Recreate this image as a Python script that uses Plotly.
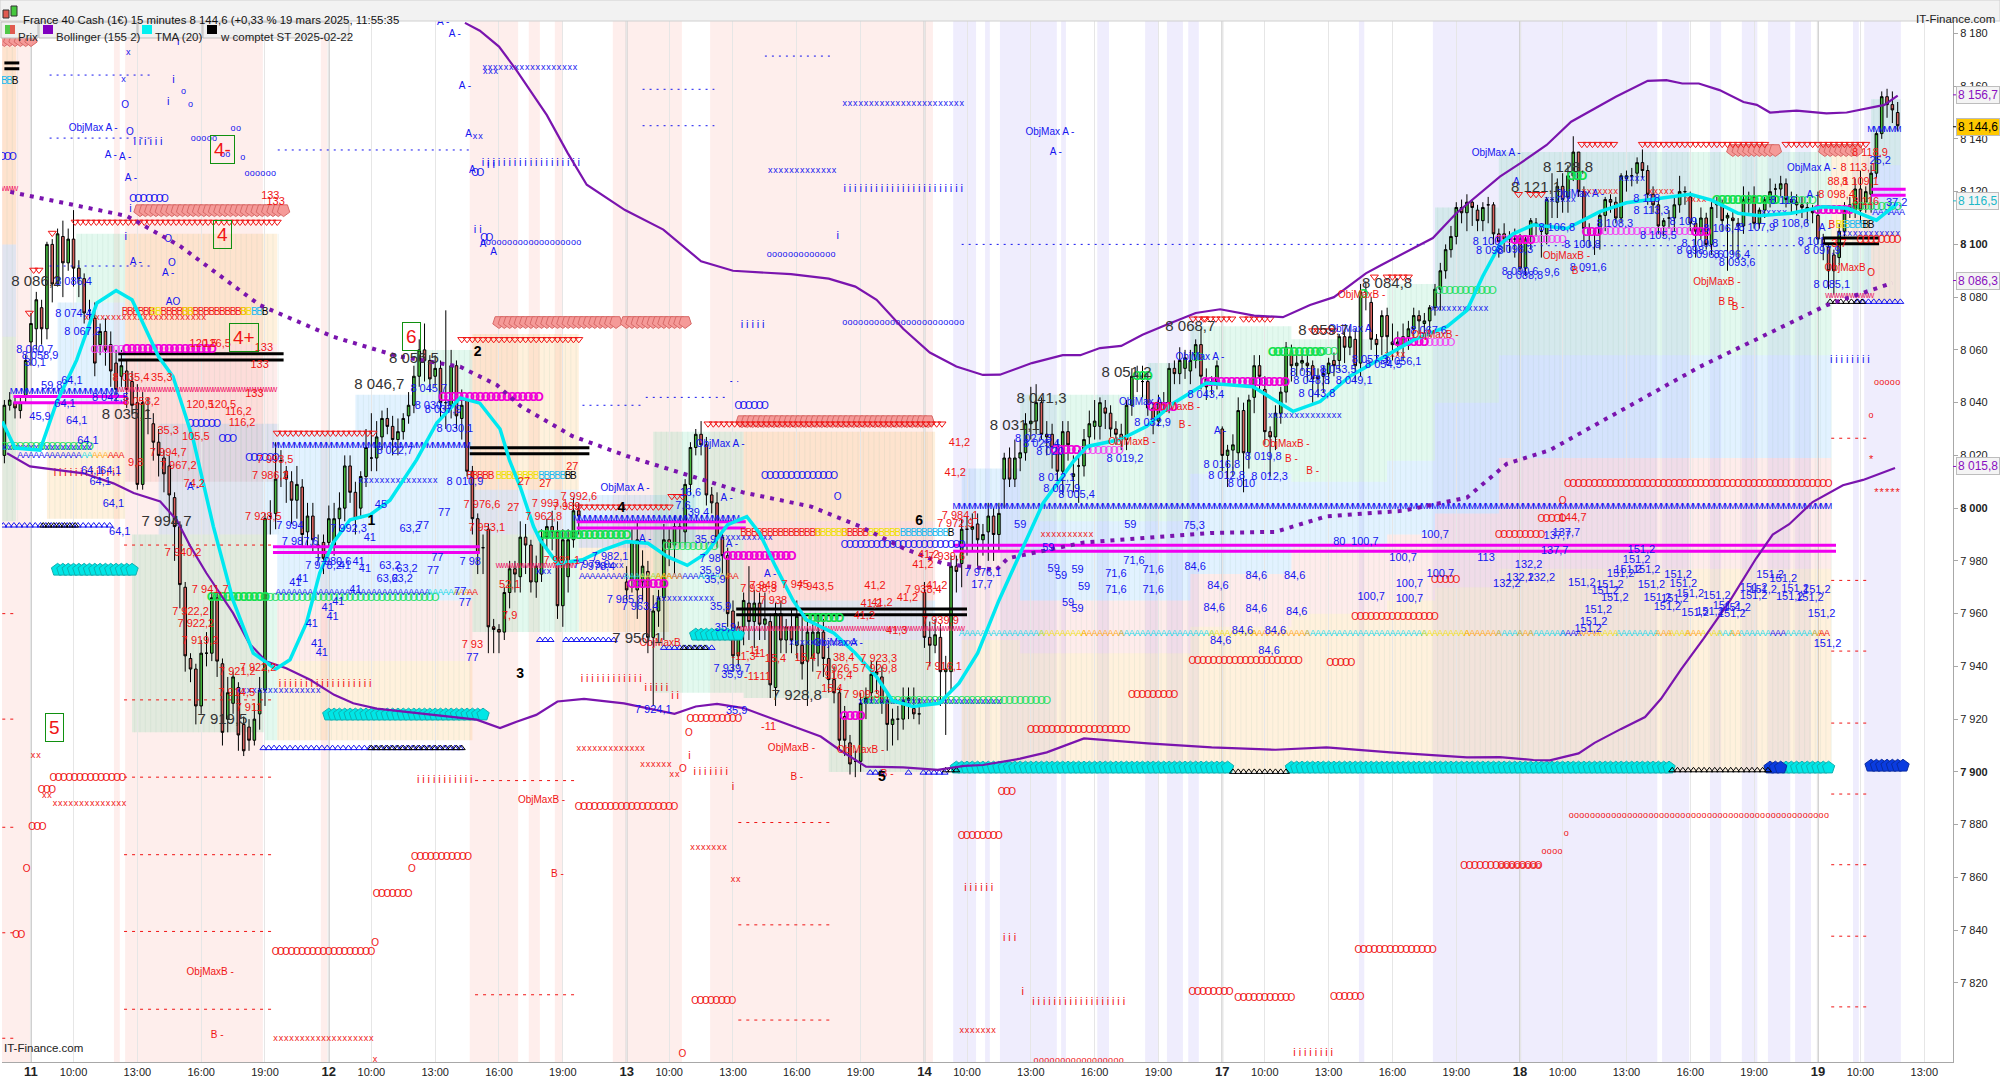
import numpy as np
import plotly.graph_objects as go

# 15 min bars, bar 0 = 11 mars 08:00, 56 bars per session
opens = [8020,8039,8040,8037,8042,
 8063,8068,8076,8068,8100,8085,8103,8093,8102,8091,
 8087,8075,8072,8062,8067,8062,8055,8050,8052,8048,
 8040,8009,8037,8032,8025,8019,8016,8004,7993,7970,
 7943,7939,7925,7945,7945,7966,7941,7920,7926,7932,
 7918,7917,7912,7922,7931,7997,7998,8018,8014,8010,
 8003,8008,7991,7997,7985,7987,7987,7986,7996,8000,
 8016,8006,8000,8012,8019,8019,8027,8034,8031,8026,
 8029,8035,8039,8050,8060,8056,8050,8053,8040,8039,
 8054,8034,8041,8014,7996,7985,7992,7955,7954,7953,
 7968,7977,7974,7989,7986,7972,7975,7989,7993,7991,7963,7974,7988,7999,
 None,None,None,None,None,None,None,None,
 7972,7973,7969,7972,7976,7951,7961,7966,7988,7986,
 7993,7991,8009,8023,8028,8024,8005,8002,7989,7982,
 7961,7944,7955,7964,7957,7964,7956,7957,7932,7960,
 7950,7955,7948,7948,7942,7943,7945,7953,7943,7935,
 7930,7921,7911,7904,7904,7926,7930,7937,7936,7927,
 7918,7920,7920,7927,7924,7922,7968,7951,7948,7951,
 7938,7938,7978,7979,7992,7992,7994,7988,7991,7997,7990,
 8011,8019,8011,8019,8021,8032,8033,8040,8028,8028,
 8023,8014,8029,8012,8016,8016,8027,8031,8031,8038,
 8036,8030,8028,8026,8039,8050,8048,8048,8038,8033,
 8040,8040,8053,8051,8053,8052,8056,8062,8049,8047,
 8048,8030,8020,8022,8021,8037,8021,8042,8054,8045,
 8029,8027,8036,8044,8059,8054,8055,8055,8054,8050,
 8050,8051,8056,8056,8065,8061,8064,8055,8082,8078,
 8064,8065,8073,8063,8062,8062,8065,8068,8073,8070,
 8071,8076,8083,8090,8098,8103,8114,8112,8116,8113,
 8109,8115,8115,8104,8104,8102,8102,8102,8091,8103,
 8108,8105,8104,8117,8116,8122,8118,8126,8135,8120,
 8106,8104,8104,8111,8117,8116,8110,8125,8126,8127,
 8131,8128,8119,8115,8107,8110,8110,8115,8120,8118,
 8108,8105,8110,8100,8116,8115,8110,8110,8108,8107,
 8117,8118,8108,8113,8117,8121,8121,8123,8117,8116,
 8115,8114,8113,8111,8102,8099,8096,8095,8105,8113,
 8113,8121,8116,8119,8127,8142,8156,8153,8150]
closes = [8039,8041,8038,8040,8056,
 8070,8079,8068,8100,8085,8104,8093,8102,8091,8087,
 8074,8075,8055,8067,8060,8052,8045,8054,8045,8039,
 8009,8040,8037,8025,8020,8013,8005,7993,7971,7944,
 7939,7925,7945,7945,7966,7942,7915,7930,7936,7914,
 7908,7912,7920,7931,7996,7997,8011,8018,8011,8003,
 8009,7990,7997,7988,7986,7981,7996,7996,8000,8016,
 8006,7996,8012,8023,8019,8027,8034,8031,8026,8029,
 8034,8039,8050,8060,8056,8049,8053,8040,8040,8054,
 8035,8039,8014,7996,7983,7985,7955,7954,7953,7968,
 7977,7975,7989,7986,7972,7978,7989,7993,7991,7963,7988,7988,7999,7997,
 None,None,None,None,None,None,None,None,
 7969,7987,7988,7978,7951,7961,7966,7988,7985,7993,
 7993,8009,8023,8028,8024,8005,8002,7989,7982,7960,
 7944,7955,7965,7957,7964,7956,7958,7933,7960,7950,
 7955,7950,7959,7941,7953,7953,7953,7943,7935,7930,
 7912,7912,7903,7904,7926,7928,7937,7938,7926,7918,
 7920,7920,7927,7928,7922,7922,7951,7948,7952,7938,
 7939,7978,7976,7992,7992,7993,7988,7990,7997,7990,7998,
 8019,8011,8019,8021,8032,8033,8040,8028,8027,8023,
 8014,8029,8024,8013,8016,8026,8032,8033,8040,8036,
 8030,8028,8026,8039,8050,8050,8048,8038,8033,8040,
 8040,8053,8051,8056,8057,8056,8062,8050,8046,8048,
 8054,8020,8022,8024,8037,8021,8041,8054,8050,8029,
 8027,8036,8044,8061,8054,8055,8056,8054,8049,8049,
 8051,8055,8054,8065,8061,8065,8054,8082,8082,8064,
 8062,8073,8065,8062,8063,8065,8068,8073,8071,8071,
 8076,8083,8090,8098,8103,8114,8112,8116,8114,8109,
 8114,8115,8104,8101,8102,8102,8102,8091,8102,8109,
 8108,8105,8117,8117,8122,8117,8126,8135,8120,8106,
 8104,8104,8111,8117,8116,8110,8126,8126,8126,8131,
 8128,8119,8115,8107,8109,8110,8115,8120,8120,8108,
 8105,8110,8100,8114,8115,8109,8111,8109,8107,8117,
 8117,8108,8113,8117,8120,8121,8123,8117,8116,8115,
 8114,8113,8112,8102,8100,8090,8090,8105,8113,8115,
 8121,8113,8120,8127,8142,8156,8153,8151,8145]
highs = [8041,8044,8042,8042,8058,
 8074,8082,8079,8101,8102,8106,8109,8106,8113,8094,
 8089,8079,8078,8070,8072,8067,8060,8060,8056,8052,
 8047,8044,8042,8036,8030,8022,8020,8006,7995,7972,
 7945,7941,7950,7953,7968,7968,7943,7936,7938,7934,
 7921,7920,7926,7936,7998,8003,8025,8022,8016,8014,
 8016,8011,8002,8002,7990,7990,8001,8002,8006,8020,
 8020,8010,8014,8030,8036,8033,8037,8038,8035,8034,
 8036,8044,8054,8064,8070,8058,8058,8056,8075,8060,
 8056,8045,8043,8016,7998,7990,7994,7958,7956,7970,
 7980,7980,7995,7994,7988,7982,7992,7996,7999,7995,7992,7992,8004,8002,
 None,None,None,None,None,None,None,None,
 7978,7992,7995,7984,7980,7967,7969,7994,7992,7997,
 7997,8011,8025,8030,8033,8027,8008,8006,7992,7985,
 7965,7957,7968,7978,7969,7968,7968,7960,7964,7965,
 7958,7962,7965,7960,7958,7956,7960,7958,7948,7940,
 7932,7925,7914,7908,7930,7932,7942,7942,7940,7930,
 7924,7925,7932,7932,7932,7928,7972,7957,7958,7956,
 7944,7982,7982,7996,7997,7998,7998,7994,8002,8000,8002,
 8021,8023,8026,8026,8036,8046,8047,8042,8033,8032,
 8026,8033,8033,8020,8022,8030,8037,8041,8042,8041,
 8039,8033,8032,8041,8053,8054,8054,8051,8040,8043,
 8044,8055,8056,8061,8060,8060,8064,8068,8053,8050,
 8056,8031,8024,8028,8042,8040,8043,8058,8058,8050,
 8031,8039,8046,8063,8062,8058,8059,8058,8056,8053,
 8054,8057,8059,8066,8067,8069,8068,8085,8086,8080,
 8066,8075,8076,8070,8067,8070,8071,8076,8075,8074,
 8077,8085,8093,8100,8107,8116,8117,8119,8117,8115,
 8116,8118,8116,8106,8108,8105,8106,8104,8103,8110,
 8110,8108,8118,8127,8125,8127,8130,8141,8135,8122,
 8108,8106,8113,8118,8119,8118,8127,8128,8129,8133,
 8136,8130,8122,8117,8110,8113,8118,8126,8122,8120,
 8110,8114,8112,8116,8118,8117,8112,8113,8110,8122,
 8120,8122,8114,8118,8125,8123,8126,8125,8120,8119,
 8118,8116,8115,8120,8104,8100,8098,8108,8116,8118,
 8125,8128,8122,8130,8143,8158,8159,8158,8154]
lows = [8017,8037,8034,8034,8040,
 8054,8060,8062,8064,8078,8084,8080,8090,8084,8080,
 8070,8070,8050,8058,8054,8046,8040,8046,8038,8035,
 8007,8007,8028,8018,8012,8006,7995,7980,7962,7938,
 7934,7918,7922,7940,7942,7936,7910,7915,7922,7908,
 7906,7908,7910,7916,7925,7990,7992,8008,8002,7994,
 7996,7985,7985,7983,7980,7975,7985,7982,7990,7995,
 8002,7990,7996,8008,8014,8014,8022,8028,8020,8020,
 8026,8032,8036,8046,8048,8044,8046,8034,8030,8034,
 8030,8026,8012,7990,7975,7975,7945,7945,7945,7950,
 7962,7968,7968,7975,7968,7966,7972,7984,7984,7958,7955,7968,7985,7990,
 None,None,None,None,None,None,None,None,
 7965,7968,7958,7965,7945,7925,7955,7950,7978,7975,
 7985,7986,8005,8020,8020,8001,7998,7985,7975,7955,
 7938,7940,7948,7950,7947,7950,7950,7928,7925,7945,
 7945,7945,7943,7935,7925,7938,7940,7936,7930,7926,
 7908,7906,7899,7898,7900,7920,7926,7930,7922,7908,
 7910,7912,7916,7920,7920,7918,7947,7940,7945,7925,
 7914,7930,7968,7970,7982,7984,7978,7982,7980,7980,7984,
 8000,8008,8008,8014,8018,8026,8028,8026,8020,8015,
 8008,8005,8018,8006,8002,8012,8022,8026,8026,8030,
 8027,8024,8022,8022,8035,8044,8042,8035,8028,8031,
 8036,8036,8047,8047,8049,8047,8053,8045,8041,8043,
 8045,8014,8008,8012,8018,8006,8015,8036,8044,8024,
 8012,8022,8032,8040,8048,8050,8052,8048,8040,8042,
 8044,8047,8050,8052,8055,8058,8048,8050,8075,8060,
 8056,8058,8055,8056,8058,8056,8060,8064,8066,8066,
 8065,8073,8075,8087,8095,8100,8108,8105,8107,8105,
 8105,8108,8100,8095,8097,8097,8095,8090,8088,8098,
 8103,8095,8100,8110,8110,8112,8112,8124,8118,8101,
 8099,8096,8098,8105,8112,8108,8108,8120,8122,8123,
 8125,8115,8112,8104,8103,8106,8105,8112,8115,8105,
 8095,8102,8098,8096,8110,8105,8090,8096,8094,8104,
 8112,8106,8106,8110,8114,8116,8118,8114,8112,8111,
 8110,8108,8108,8100,8094,8083,8081,8092,8103,8110,
 8110,8108,8112,8112,8125,8140,8148,8146,8143]
bars = list(range(-5, len(closes) - 5))

upper_x = [81.6,84.4,88,91.3,97,100.9,104.5,111.7,118.9,126,132,142.9,150,155,159,164,169,174,179,182.2,188.2,194,197.3,201,205,209,213.5,219,223.6,230,235.4,240.5,245,251,254,260.5,263.6,268,276.2,280,285,289.6,293,298,304,307.5,310.5,313.6,317.5,322,324.5,327,332,337.6,341.4,345,348.5,351]
upper_y = [8184,8181,8175,8166,8149,8134.7,8122.6,8113,8105.6,8093.6,8090,8088.7,8087,8084,8079,8068,8059,8053.7,8050.5,8050.6,8055,8058,8058,8060.7,8061.5,8065.7,8069.5,8074,8075.4,8073,8072.4,8077,8080,8089,8092.3,8099,8102.4,8111.8,8125.7,8130.7,8137.7,8146.5,8150.3,8156,8162,8162.3,8161,8161,8158.5,8154,8152.9,8150,8150.7,8149.7,8150,8151.6,8152.9,8156.4]
lower_x = [-4.5,-0.2,4.8,9.9,15.5,19.3,24.3,27.4,30,33,38,41,44.3,48,52.5,57,60.6,65,83.8,88.2,91.3,95,99,104,111.5,116,121,125,129,134,139,143.5,148.5,152,157,164,170.5,175.5,179,186,191,198,210,222,234,243.6,255.6,270,276.2,282.5,285.6,291,294,299,303.5,306.5,310.3,314.5,319.5,324.4,327.5,330.6,335,340.7,344.5,350.5]
lower_y = [8020.8,8015.8,8014.5,8013.2,8009.4,8005.7,8002.5,7995.5,7985.4,7975.3,7960.2,7948.8,7941.8,7939.3,7934.9,7929.2,7926,7924,7919.8,7916.6,7919,7921.6,7926.7,7927.7,7926,7924,7922,7924.8,7925.8,7924.2,7920.4,7917.2,7913.4,7908.4,7902,7901.7,7900.8,7902.3,7902.6,7905,7907.4,7912.7,7910.8,7909.3,7908.4,7909.3,7907.4,7905.5,7905.6,7904.5,7904.4,7907,7911,7916.3,7920.8,7927.7,7939,7950.5,7965,7981,7990,7993.9,8002.3,8008.7,8010.7,8015.2]
middle_x = [-3.9,18,28,43,56.8,68.8,80.7,87.6,92,101.7,112,123,134,146.7,156,164,171.5,181.5,183.7,198,222,234,243.6,258,270,277.5,285.6,313.8,337.7,350]
middle_y = [8119.9,8110.8,8099.4,8077,8065,8057.7,8053.6,8046.7,8038.8,8027.4,8019.8,8013,8005.9,8000.6,7993,7984.8,7979,7976.6,7981,7987,7990.6,7991,7996.9,7999,8004,8016.8,8022,8053.6,8077,8085.4]
tma_x = [-5.4,-3,1.7,4.8,8.6,12.4,16,19,24,26.7,30.5,34.3,38,41.8,46,48.7,51.8,54.3,56.8,60,63.8,67.5,72.5,76.3,80.7,84.4,88.2,90,92,94.5,95.7,99,103.7,107.4,112,116,119.6,123.4,127,131,134.6,137,140,143.3,145.8,151,155,159,162,165.8,170.8,174.5,178,182,190.3,196,198.6,204.8,209.8,214.8,221,229.8,237.3,242.4,248,252.4,260,266.3,270,273,276.2,278.7,282.5,288.8,295,300,307.5,312,316,321,325,331,337,341.5,347,351]
tma_y = [8032.8,8022.8,8022,8040,8056.2,8077.8,8082.5,8079,8057.4,8049.9,8026,7993,7965,7945,7939,7942.5,7956.5,7975.5,7986.8,7995.6,7997.5,8003,8018.3,8032.3,8041.8,8039.8,8030,8018,8008,7993,7988,7979,7980.4,7984,7987.3,7986.7,7981.7,7978.3,7983,7993.7,7996.8,7990.5,7977.9,7965,7957.7,7952.6,7945,7936,7927,7924.8,7926,7933.6,7945,7965,8001.9,8017.7,8023.4,8026,8031,8039.8,8047.4,8046,8036.7,8040.4,8050,8055,8063.8,8068.9,8075,8088,8100,8104,8107.4,8106,8112.4,8115.8,8118,8119,8116.8,8111.8,8110.9,8111.8,8114.3,8113.7,8109.2,8115.6]

red_bands = [(-5.45,-0.2),(15.6,16.7),(17.7,43.6),(54.5,55.7),(82.5,91.6),(93.6,95.7),(98.5,100),(109.4,122.4),(127.7,169.6)]
lavender_bands = [(173.4,177.7),(179.4,180.3),(182.2,192.9),(193.7,194.6),(200.5,202.7),(209.5,212.1),(213.6,216.6),(217.6,219.6),(249.7,250.7),(263.6,305.8),(306.7,311.8),(315.7,317.8),(321.7,324.6),(326.6,330.8),(331.7,334.7),(342.6,343.7),(344.7,351.6)]

# (first bar, last bar, top price, bottom price)
zones_orange = [(-5.4,-2.8,8175,8100),(17.7,46.3,8104,8062),(3,17.7,8022,7996),(46.3,83,7942,7912),(83,103,8066,8007),(103,120,7985,7953),(134,170,8029,7995),(175,186,7950,7900),(186,218,7945,7900),(218,237,7955,7900),(237,255,7960,7900),(255,264,7965,7900),(264,276,7970,7900),(276,338.5,7977,7900),(338.5,346,8134,8100),(346,351.5,8105,8078)]
zones_red = [(17.7,46.3,8062,8010),(3,17.7,8040,8022),(46.3,83,7965,7942),(134,170,7995,7965),(175,186,7985,7950),(186,218,7965,7945),(218,237,7975,7955),(237,255,7985,7960),(255,264,7990,7965),(264,276,7998,7970),(276,338.5,8019,7977),(103,130,7995,7985)]
zones_blue = [(-5.4,-2.8,8100,8065),(5,17.7,8078,8040),(24,46.3,8032,7990),(46.3,61,8029,7965),(61,72,8043,7965),(72,83,8043,7965),(83,103,8007,7990),(103,125,8005,7985),(134,170,7965,7950),(175,186,8015,7985),(186,218,7995,7965),(218,237,8013,7975),(237,255,8010,7985),(255,264,8018,7990),(264,276,8040,7998),(276,338.5,8058,8019),(346,351.5,8130,8105)]
zones_green = [(-5.4,-2.8,8065,7995),(8.5,17.7,8104,8078),(19,44,7990,7915),(44,46.3,7968,7912),(72,83,8060,8043),(83,103,7990,7953),(117,134,8029,7930),(134,150,7950,7928),(150,170,7950,7900),(186,210,8043,7995),(210,218,8055,7995),(218,237,8069,8013),(237,255,8064,8010),(255,264,8085,8018),(264,276,8114,8040),(276,338.5,8135,8058),(338.5,346,8100,8080),(346,351.5,8155,8130)]

# level lines: (first bar, last bar, price)
magenta_levels = [(-3.3,18,8042.3),(-3.3,18,8040),(45.5,84.4,7985.4),(45.5,84.4,7983.2),(102.6,134.4,7994.8),(102.6,134.4,7992.5),(173.4,339.4,7985.9),(173.4,339.4,7983.7),(346,352.5,8120.9),(346,352.5,8118.6)]
black_levels = [(-5,-2.2,8168.8),(-5,-2.2,8166.6),(16.4,47.5,8058.5),(16.4,47.5,8056.2),(82.5,105,8022.9),(82.5,105,8020.6),(132.6,176,7961.8),(132.6,176,7959.6),(337,347.5,8102.4),(337,347.5,8100.2)]
blue_dashes = [(3.5,23,8164.2),(3.5,23,8140.3),(3.5,23,8091.8),(46.4,83,8135.8),(103.7,115.4,8039),(115.6,130.8,8042),(131.5,133,8048),(115,128.5,8158.8),(115,128.5,8145),(138,151,8171.4),(175,262,8100),(276,338,8099.5)]
red_dashes = [(17.5,46,7986),(17.5,46,7927.3),(17.5,46,7898),(17.5,46,7868.6),(17.5,46,7839.5),(17.5,46,7810),(-5.4,-3,7960),(-5.4,-3,7920),(-5.4,-3,7879),(-5.4,-3,7839),(-5.4,-3,7799),(83.5,103,7896.7),(83.5,103,7815.5),(133,151,7880.8),(133,151,7842),(133,151,7805.9),(338.5,346,8026.5),(338.5,346,7972.6),(338.5,346,7945.8),(338.5,346,7918.5),(338.5,346,7891.6),(338.5,346,7864.8),(338.5,346,7837.7),(338.5,346,7810.9)]

# glyph rows, one glyph per bar: (first bar, last bar, price)
tri_red = [(8.3,47,8108.5),(46.3,65,8028.5),(81,103,8064),(127.3,172,8032),(103,120.7,8000.5),(120.5,122.5,8004.5),(218.5,220.5,8071.8),(220.8,226,8071.8),(228,233,8071.8),(241,245,8067.3),(252.6,252.6,8087.7),(255,259,8087.7),(0.5,2,8090.3),(4,4,8104.3),(-0.3,-0.3,8074),(291.6,298.4,8138),(303,326,8138),(330,345,8138),(279.7,279.7,8119),(282,284,8119)]
arrows_pink = [(-5,0,8177.5),(20.5,47.6,8113),(88,110,8070.6),(112,123,8070.6),(133.7,169.6,8033),(320,328.3,8135.8),(337.3,344,8135.8)]
arrows_cyan = [(5,19,7976.6),(56,85,7921.7),(125,133,7952),(174,225.6,7901.6),(237,308.4,7901.6),(330,338,7901.6)]
arrows_blue = [(327,329.5,7901.6),(346,352,7902.3)]
tri_up_blue = [(-5.2,15.4,7993.4),(43.7,81.6,7909),(95.7,98.5,7950),(100.6,109.8,7950),(119,128.6,7947),(157.8,160,7899.7),(165,165,7899.7),(167.8,172.5,7899.7),(343.5,352,8078.2)]
tri_up_black = [(2.3,8.6,7993.4),(64,81,7909),(122.7,127,7947),(172,174,7900.6),(226,236,7900),(308.6,327,7900.6),(338.3,345,8078.2)]
m_blue = [(-3.3,16,8044),(46,82,8023.7),(102.6,133.5,7996),(174,338,8000.7),(346,351,8143.4)]
w_pink = [(-5,-3,8121),(16.7,46,8044.8),(88,102.6,7978),(133,175,7954.2),(338,346,8080.4)]
magenta_bold = [(18,34,8060),(77.5,95.7,8041.8),(113,119,7971),(131,143,7981.4),(153,156,7921),(192.6,196.7,8021.7),(210.8,214.8,8038),(220.8,235.8,8047.5),(257,262,8062.7),(279,282,8101.4),(292.5,295,8104.5),(313,315.7,8104.5),(336,342,8112.7)]
magenta_thin = [(12,18,8060),(196.7,205,8021.7),(262,267,8062.7),(276,288,8101.4),(295,313,8104.5)]
green_bold = [(34,44,7966),(96,112,7989.5),(146,152,7958),(208,210,8050),(233.5,243,8059),(250.5,250.5,8081),(289.7,292,8125.7),(317,328,8116.5)]
green_thin = [(-5,11,8023),(44,76,7966),(119.5,129,7985),(157,191,7926.8),(218.8,219.8,8057),(243,245,8059),(264.8,275,8082.3),(328,335,8116.5),(343,351,8113.9)]
o_big_blue = [(-5.4,-3,8133),(19.2,25.2,8116.9),(17.7,17.7,8152.5),(18.6,18.6,8142.3),(25.8,25.8,8101.7),(26.5,26.5,8092.9),(30,35,8031.6),(36,38.5,8026),(41,46,8019),(83.5,84.7,8126.7),(85.2,86.4,8102.4),(133,138,8038.4),(138,151,8011.9),(151.7,151.7,8004),(153,175,7985.8)]
o_small_blue = [(30.5,35,8140),(38,39,8143.8),(36,37,8134),(39.8,39.8,8132.8),(28.7,28.7,8158),(30,30,8153),(40.6,46.3,8126.7),(85,103,8100.8),(138.8,151,8096),(153,175,8070.3)]
x_blue = [(18.3,18.3,8172.5),(17.4,17.4,8162.3),(85.4,87.8,8165.4),(83.5,84.7,8141),(85.3,103,8167),(139,151,8127.9),(153,175,8153.5),(-5,11,8023),(39,54,7930.7),(62,76,8010.3),(95.4,98,7976),(107,111,7978),(118,128.5,7965.6),(130,139,7988.7),(143,155,7949),(156,182,7926.5),(233,246.8,8035),(263.6,274,8075.5),(299,303,8124.8),(285,290,8117),(325.7,330,8112),(340,351,8104)]
i_blue = [(19.5,25,8138.7),(27.7,27.7,8176.7),(26.8,26.8,8162.4),(25.8,25.8,8154),(18.7,18.7,8113.4),(17.8,17.8,8102.8),(86,87,8130),(83.5,84.5,8105.5),(85,103,8130.8),(133.7,138,8069.5),(153,175,8121),(151.7,151.7,8103.2),(338.5,346,8056)]
o_big_red = [(4.2,17.3,7897.4),(2,4,7893),(0.2,2.3,7879),(-0.8,-0.8,7863),(-2.8,-0.9,7838),(46,64,7831.4),(64.7,64.7,7835),(65,71.2,7853.4),(71.6,71.6,7863),(72.2,83,7867.5),(103,121,7886.5),(124,133.4,7920),(123.7,123.7,7914.7),(122.6,122.6,7900.8),(124.9,132.8,7813),(122.5,122.5,7793),(175,182,7875.5),(182.5,185,7892),(188,206,7915.6),(207,215,7929),(218.4,239,7942),(244.3,249,7941.2),(249,264,7958.7),(264,268,7972.7),(276,284,7989.8),(284,288,7995.8),(288,288,8002.6),(289,338,8008.8),(249.6,264,7832.3),(269.5,284,7864),(218.4,226,7816.5),(227,237,7814),(245,250,7814.6),(344,351,8101.3),(346,346,8089)]
o_small_red = [(189,205.7,7790.5),(276.5,284,7864.5),(284.5,288,7869.7),(288.7,288.7,7876.7),(289.6,338.3,7883.2),(347,351,8047.4),(346,346,8035)]
x_red = [(10.5,33,8072),(0.4,2.3,7906),(2.5,4,7891),(4.5,17.5,7888),(46,64,7799),(64.7,64.7,7791),(103,115,7908.9),(115,120,7902.7),(120.5,122,7898.9),(124.4,131,7871.2),(132,133,7859),(175,181,7802),(190.3,200,7990),(255,258.5,8058),(292,298,8120),(304.5,309,8120),(311.6,315,8117)]
i_red = [(4.5,16.7,8013.4),(46.8,64,7933.4),(72.8,83,7897),(103.6,115,7935),(115.6,120,7931.8),(120.6,121.8,7928.6),(123.8,123.8,7905.8),(124.8,131,7900),(132,132,7894),(175.7,181,7855.7),(183,185,7836.8),(186.5,186.5,7816.5),(188.5,206,7812.5),(237.6,245,7793.3)]
a_blue = [(-2,9,8020),(46.5,75,7968),(103.6,112,7974),(120,126,7974),(346.8,351.8,8112),(288,291.5,7952.3),(327.5,330.4,7952.3)]
a_cyan = [(10,11.5,8020),(75,80,7968),(112,118,7974),(126,130,7974),(175,190,7952.3),(205,222,7952.3),(240,262,7952.3),(276,280,7952.3),(282,288,7952.3),(298.5,306,7952.3),(317.6,320,7952.3),(321.6,327.5,7952.3),(330.4,335.4,7952.3)]
a_yellow = [(115,120,7974),(190,198,7952.3),(222,230,7952.3),(262,270,7952.3),(295,298.5,7952.3),(308.5,311.6,7952.3),(314.5,317.6,7952.3)]
a_orange = [(12,14,8020),(80,82,7968),(118,122,7974),(130,131.5,7974),(198,205,7952.3),(230,240,7952.3),(270,276,7952.3),(280,282,7952.3),(291.5,295,7952.3),(306,308.5,7952.3),(311.6,314.5,7952.3),(320,321.6,7952.3),(335.4,336.7,7952.3)]
a_red = [(15,17.7,8020),(82.5,83.8,7968),(131.5,132.7,7974),(336.7,338.5,7952.3)]
b_red = [(17.7,23,8074.3),(25,29,8074.3),(30,40,8074.3),(82.5,87,8012),(134,139,7990.5),(140,148,7990.5),(153,157,7990.5),(338.6,339.5,8107.3)]
b_yellow = [(23,24.5,8074.3),(29,30,8074.3),(40,41,8074.3),(88,95,8012),(148,153,7990.5),(158,163,7990.5),(340,341,8107.3)]
b_cyan = [(-5,-4,8161.7),(42,43,8074.3),(96,100,8012),(164,172,7990.5),(341.5,345,8107.3)]
b_black = [(-3,-3,8161.7),(44,44,8074.3),(101,102,8012),(173,173,7990.5),(345,346,8107.3)]
star_red = [(346,346,8018),(347,351,8005.8)]

# (bar, price, text)
dark_labels = [(1,8085.7,"8 086,2"),(18,8035.3,"8 035,1"),(25.5,7994.7,"7 994,7"),(65.5,8046.7,"8 046,7"),(72,8056.5,"8 056,5"),(36,7919.5,"7 919,5"),(114,7950.1,"7 950,1"),(144,7928.8,"7 928,8"),(190,8041.3,"8 041,3"),(185,8031.1,"8 031,1"),(206,8051.2,"8 051,2"),(218,8068.7,"8 068,7"),(243,8067,"8 059,7"),(255,8084.8,"8 084,8"),(289,8128.8,"8 128,8"),(283,8121.1,"8 121,1")]
bold_labels = [(84,8059,"2"),(92,7937,"3"),(111,8000,"4"),(160,7898,"5"),(167,7995,"6"),(64,7995,"1")]
objmax_blue = [(11.7,8144,"ObjMax A -"),(111.7,8007.6,"ObjMax A -"),(129.6,8024,"ObjMax A -"),(151.8,7948.8,"ObjMax A -"),(191.6,8142.4,"ObjMax A -"),(209.2,8040,"ObjMax A -"),(219.8,8057,"ObjMax A -"),(248,8067.6,"ObjMax A"),(275.5,8134.6,"ObjMax A -"),(291.2,8119,"ObjMax A -"),(334.8,8128.8,"ObjMax A -"),
 (15,8133.6,"A -"),(17.7,8133,"A -"),(18.8,8124.8,"A -"),(19.7,8093,"A -"),(25.8,8088.8,"A -"),(26.7,8077.8,"AO"),(30.5,8008,"A -"),(77.5,8184,"A -"),(79.7,8179.4,"A -"),(81.6,8160,"A -"),(82.3,8141.5,"A"),(83,8128,"A"),(85,8099.8,"A"),(87,8097,"A"),(115.5,7988,"A -"),(130.8,8003.5,"A -"),(131.8,7986.3,"A -"),(139,7975,"A -"),(192.7,8134.8,"A -"),(223.6,8029,"A -"),(279.3,8123.4,"A"),(335,8118.7,"A -"),(337.3,8106,"A -")]
objmax_red = [(33.7,7823.8,"ObjMaxB -"),(35,7800,"B -"),(118.3,7948.5,"ObjMaxB"),(96,7889,"ObjMaxB -"),(99,7861,"B -"),(143,7909,"ObjMaxB -"),(156,7908,"ObjMaxB -"),(144,7898,"B -"),(161,7898.9,"B -"),(207,8024.7,"ObjMaxB -"),(215.4,8038,"ObjMaxB -"),(217,8031.3,"B -"),(236,8024,"ObjMaxB -"),(237,8018.3,"B -"),(241,8014,"B -"),(250.2,8080.6,"ObjMaxB -"),(264,8065.5,"ObjMaxB -"),(288.7,8095.4,"ObjMaxB -"),(290.9,8089.7,"B -"),(317,8085.5,"ObjMaxB -"),(318.8,8078,"B B"),(321,8076,"B -"),(341.7,8091,"ObjMaxB -")]
blue_labels = [(8,8085.7,"8 086,4"),(8,8073.6,"8 074,4"),(9.7,8066.8,"8 067,2"),(0.7,8060,"8 060,7"),(1.7,8057.7,"8 058,9"),(0.8,8055,"30,1"),(3.9,8046.4,"59,8"),(7.7,8048.3,"64,1"),(6.4,8039.5,"64,1"),(1.7,8034.6,"45,9"),(8.6,8032.8,"64,1"),(10.7,8025.5,"64,1"),(11.4,8013.8,"64,1"),(15,8013.8,"64,1"),(13,8010,"64,1"),(15.5,8001.6,"64,1"),(16.7,7991,"64,1"),(14.9,8041.8,"8 042,5"),
 (74.8,8045,"8 045,7"),(68.4,8021.7,"8 022,7"),(75.6,8038.5,"8 030,1"),(77.5,8037,"8 037,9"),(79.7,8030,"8 030,1"),(81.6,8010,"8 010,9"),(48.7,7993,"7 994"),(59.7,7992,"7 992,3"),(50.6,7986.9,"7 987,6"),(56.8,7979.6,"7 980,6"),(55,7977.8,"7 978,2"),(82.6,7979.3,"7 98"),
 (63.7,7988.4,"41"),(62.8,7977,"41"),(61.6,7979.6,"41"),(59,7978,"41"),(49.7,7971.7,"41"),(51,7972.9,"41"),(61,7969,"41"),(57.8,7964.5,"41"),(55.8,7962,"41"),(56.7,7958.8,"41"),(52.8,7955.8,"41"),(53.8,7948.5,"41"),(54.7,7945,"41"),
 (71.3,7992,"63,2"),(67.5,7978,"63,2"),(70.7,7977,"63,2"),(67,7973,"63,2"),(69.8,7973,"63,2"),(65.8,8001,"45"),(77.7,7998,"77"),(73.7,7993,"77"),(75.6,7976,"77"),(76.4,7981,"77"),(81.6,7964,"77"),(80.7,7968,"77"),(83,7943,"77"),
 (111.7,7965,"7 965,8"),(114.5,7962.5,"7 963,4"),(117,7923.3,"7 924,1"),(108.9,7981.3,"7 982,1"),(105.4,7978.5,"7 979,9"),(106.4,7977.5,"7 978,4"),(124,8005.7,"16,6"),(122.6,8000.9,"7,6"),(125.5,7998,"39,4"),(126.8,7987.7,"35,9"),(127.7,7980.7,"7 98"),(127.7,7976,"35,9"),(128.6,7972.6,"35,9"),(129.7,7962.5,"35,9"),(130.6,7954.5,"35,9"),(131.8,7939,"7 939,7"),(131.8,7936.8,"35,9"),(132.7,7923,"35,9"),(179,7975.3,"7 976,1"),(178.8,7970.7,"17,7"),
 (188.5,8026.3,"8 027,3"),(190,8024.4,"8 025,4"),(191.6,8021.2,"8 020"),(192.9,8011.4,"8 012,1"),(193.8,8007.3,"8 007,9"),(196.6,8005,"8 005,4"),(210.9,8032.2,"8 032,9"),(205.7,8018.6,"8 019,2"),(220.9,8042.7,"8 043,4"),(223.9,8016.2,"8 016,8"),(224.8,8012,"8 012,8"),(227.6,8009.2,"8 010"),(232.9,8011.8,"8 012,3"),(231.7,8019.2,"8 019,8"),(240.2,8051,"8 051,8"),(240.8,8048,"8 048,8"),(241.8,8043,"8 043,8"),(245.8,8052.2,"8 053,5"),(248.8,8048.3,"8 049,1"),(251.8,8056.2,"8 057,3"),(254.3,8054.3,"8 054,5"),(258,8055.2,"8 056,1"),(262.8,8067,"8 067,6"),(273.7,8100.7,"8 100"),(274.3,8097.3,"8 098"),
 (286.9,8106,"8 106,8"),(297.8,8107.7,"8 108,3"),(291.7,8099.8,"8 100,8"),(292.8,8091,"8 091,6"),(279,8097.9,"8 098,3"),(280,8089.4,"8 090,6"),(280.9,8087.8,"8 088,8"),(286,8089,"9,6"),(303.8,8117.2,"8 118"),(304.7,8112.4,"8 113,3"),(310.7,8108.4,"8 109"),(306,8103.2,"8 105,5"),(313.8,8100,"8 100,8"),(312,8097.3,"8 098"),(314.8,8095.7,"8 096,6"),(319.8,8096,"8 096,4"),(320.8,8092.8,"8 093,6"),(317.9,8105.8,"8 106,4"),(324.5,8106,"8 107,9"),(330.9,8107.7,"8 108,6"),(329.5,8116.2,"8 116"),(334.8,8100.8,"8 101"),(336.8,8097.3,"8 097,9"),(338.6,8084.4,"8 085,1"),(347.7,8131.7,"25,2"),(350.8,8115.6,"37,2"),
 (186,7993.5,"59"),(191.3,7984.8,"59"),(192.3,7977,"59"),(193.7,7974,"59"),(195,7964,"59"),(196.8,7976.5,"59"),(196.8,7961.6,"59"),(198,7970,"59"),(206.7,7993.5,"59"),(204,7975,"71,6"),(211,7976.5,"71,6"),(211,7968.8,"71,6"),(204,7968.8,"71,6"),(207.4,7980,"71,6"),(218.7,7993,"75,3"),
 (218.9,7977.5,"84,6"),(223.2,7970.3,"84,6"),(230.4,7974,"84,6"),(237.6,7974,"84,6"),(222.5,7962,"84,6"),(230.4,7961.6,"84,6"),(223.7,7949.5,"84,6"),(227.8,7953.3,"84,6"),(232.8,7945.6,"84,6"),(238,7960.6,"84,6"),(234,7953.3,"84,6"),
 (264,7989.6,"100,7"),(258,7981,"100,7"),(265,7975,"100,7"),(259.2,7971,"100,7"),(252,7966.4,"100,7"),(259.2,7965.4,"100,7"),(246,7987,"80"),(250.8,7987,"100,7"),(273.6,7981,"113"),
 (281.6,7978.3,"132,2"),(284,7973.3,"132,2"),(280,7973.3,"132,2"),(277.5,7971,"132,2"),(286.5,7983.7,"137,7"),(288.7,7990.4,"137,7"),(287,7989.4,"137,7"),
 (291.6,7971.5,"151,2"),(296.9,7970.6,"151,2"),(296,7968.5,"151,2"),(297.8,7966,"151,2"),(302.8,7984,"151,2"),(301.9,7980.2,"151,2"),(298.9,7974.9,"151,2"),(300.3,7976.4,"151,2"),(303.8,7976.4,"151,2"),(309.7,7974.4,"151,2"),(304.7,7970.6,"151,2"),(310.7,7971.1,"151,2"),(312,7967.3,"151,2"),(305.8,7966,"151,2"),(309.1,7965.4,"151,2"),(307.7,7962.4,"151,2"),(294.7,7961.2,"151,2"),(293.8,7956.6,"151,2"),(292.8,7954,"151,2"),(312.9,7960.1,"151,2"),(315.7,7960.4,"151,2"),(319.8,7959.7,"151,2"),(317,7966.5,"151,2"),(320.8,7962,"151,2"),(318.8,7962.7,"151,2"),(323.9,7969.6,"151,2"),(323.9,7966.5,"151,2"),(325.7,7968.8,"151,2"),(327,7974.4,"151,2"),(329.5,7973,"151,2"),(331.7,7969.1,"151,2"),(335.8,7968.8,"151,2"),(330.7,7966.2,"151,2"),(334.5,7965.7,"151,2"),(336.7,7959.7,"151,2"),(337.8,7948.4,"151,2")]
red_labels = [(45,8118.4,"133"),(46,8116,"133"),(43.8,8060.8,"133"),(43,8054,"133"),(42,8043,"133"),(32.4,8062.3,"120,5"),(35,8062,"126,5"),(31.8,8039,"120,5"),(36,8039,"120,5"),(39.7,8032,"116,2"),(39,8036.5,"116,2"),(31,8027,"105,5"),
 (45.9,8018.3,"7 993,5"),(45,8012.2,"7 986,2"),(43.7,7996.7,"7 928,5"),(28.6,7983,"7 940,2"),(33.7,7969,"7 941,7"),(30,7960.7,"7 922,2"),(31,7955.8,"7 922,2"),(31.8,7949.7,"7 919,2"),(38.8,7937.6,"7 921,2"),(42.7,7939.4,"7 922,2"),(38.7,7930,"7 914,5"),(41,7924.3,"7 911"),(25.8,8021,"7 994,7"),(27.7,8015.7,"7 967,2"),(30.7,8009,"74,2"),(25.8,8029,"35,3"),(18.8,8049.4,"8 035,4"),(24.6,8049.4,"35,3"),(20.8,8040,"8 058,2"),(19.7,8017,"9,8"),(84.8,8001,"7 976,6"),(85.7,7992.5,"7 953,1"),(83,7948,"7 93"),
 (103,8004,"7 992,6"),(97.6,8001.6,"7 993,1"),(100.7,8000.4,"7 989"),(92.7,8009.7,"27"),(96.7,8009,"27"),(101.8,8015.4,"27"),(90.7,8000,"27"),(96.4,7996.5,"7 962,8"),(99.8,7980,"7 981,1"),(90,7970.7,"52,1"),(90,7959,"7,9"),
 (135.8,7945.6,"-11"),(134,7943.4,"-11,3"),(137,7944.6,"11"),(135.5,7936,"-11"),(137.7,7936,"-11"),(138.7,7916.8,"-11"),(140,7942.7,"15,4"),(145.6,7943,"15,4"),(137.7,7970.5,"7 948"),(136.8,7969.3,"7 938,3"),(143.7,7970.7,"7 945"),(147.5,7970,"7 943,5"),(139.6,7964.6,"7 938"),
 (174.6,8024.6,"41,2"),(173.8,8013.3,"41,2"),(158.7,7970.3,"41,2"),(158,7963.7,"41,2"),(160,7964,"41,2"),(164.8,7965.9,"41,2"),(156.7,7959,"41,2"),(167.7,7978.5,"41,2"),(168.8,7982,"41,2"),(167.8,7968.8,"7 938,4"),(170.3,7970.3,"41,2"),(174.7,7996.8,"7 984,1"),(173.8,7994,"7 972,9"),(172.2,7981.4,"7 939,6"),(171,7957,"7 939,9"),(171.6,7939.6,"7 916,1"),(162.8,7953.2,"41,3"),(152.8,7943,"38,4"),(159.4,7942.7,"7 923,3"),(159.4,7939,"7 929,8"),(152.2,7939,"7 926,5"),(151,7936.2,"7 916,4"),(150.6,7931.4,"15,4"),(156.2,7929,"7 909,3"),
 (289.9,7996.2,"144,7"),(343.6,8128.8,"8 113,1"),(345.8,8134.5,"8 118,9"),(339.8,8123.5,"88,1"),(344,8123.5,"8 109,1"),(339.5,8118.5,"8 098,4"),(345,8116,"8 116"),(340,8100,"3,7")]
# (bar, price, text) in green frames
framed_labels = [(36,8136,"4-"),(36,8103.6,"4"),(40,8064.6,"4+"),(71.5,8065,"6"),(4.5,7917,"5")]

tag_prices = [8156.7,8144.6,8116.5,8086.3,8015.8]
tag_texts = ["8 156,7","8 144,6","8 116,5","8 086,3","8 015,8"]
y_ticks = [8180,8160,8140,8120,8100,8080,8060,8040,8020,8000,7980,7960,7940,7920,7900,7880,7860,7840,7820]
y_labels = ["8 180","8 160","8 140","8 120","<b>8 100</b>","8 080","8 060","8 040","8 020","<b>8 000</b>","7 980","7 960","7 940","7 920","<b>7 900</b>","7 880","7 860","7 840","7 820"]
x_ticks = [0,8,20,32,44,56,64,76,88,100,112,120,132,144,156,168,176,188,200,212,224,232,244,256,268,280,288,300,312,324,336,344,356]
x_labels = ["11","10:00","13:00","16:00","19:00","12","10:00","13:00","16:00","19:00","13","10:00","13:00","16:00","19:00","14","10:00","13:00","16:00","19:00","17","10:00","13:00","16:00","19:00","18","10:00","13:00","16:00","19:00","19","10:00","13:00"]
day_bars = [0,56,112,168,224,280,336]

BLUE = "#1414F0"
RED = "#F01414"
FONT = "Liberation Sans"
W, H, ML, MR, MT, MB = 2000, 1080, 2, 47, 21, 18


def fx(px):
    return (px - ML) / (W - ML - MR)


def fy(px):
    return 1 - (px - MT) / (H - MT - MB)


fig = go.Figure()
shapes = []
for b0, b1 in red_bands:
    shapes.append(dict(type="rect", x0=b0, x1=b1, y0=0, y1=1, yref="paper", fillcolor="rgba(245,120,110,0.13)", line_width=0, layer="below"))
for b0, b1 in lavender_bands:
    shapes.append(dict(type="rect", x0=b0, x1=b1, y0=0, y1=1, yref="paper", fillcolor="rgba(120,110,240,0.12)", line_width=0, layer="below"))
for zones, col in [(zones_orange, "rgba(255,190,100,0.22)"), (zones_red, "rgba(250,130,120,0.15)"),
                   (zones_blue, "rgba(110,190,255,0.2)"), (zones_green, "rgba(70,215,150,0.15)")]:
    for b0, b1, hi, lo in zones:
        shapes.append(dict(type="rect", x0=b0, x1=b1, y0=lo, y1=hi, fillcolor=col, line_width=0, layer="below"))
for d in day_bars:
    shapes.append(dict(type="line", x0=d, x1=d, y0=0, y1=1, yref="paper", line=dict(color="#CFCFCF", width=2), layer="below"))

# faint per bar stripes inside the zones
sx, sy = [], []
for zones in (zones_orange, zones_red, zones_blue, zones_green):
    for b0, b1, hi, lo in zones:
        for b in np.arange(np.ceil(b0), b1):
            sx += [b + 0.5, b + 0.5, None]
            sy += [lo, hi, None]
fig.add_trace(go.Scatter(x=sx, y=sy, mode="lines", line=dict(color="rgba(150,190,170,0.14)", width=1), hoverinfo="skip"))


def levels(rows, color, width, dash="solid"):
    x, y = [], []
    for b0, b1, p in rows:
        x += [b0, b1, None]
        y += [p, p, None]
    fig.add_trace(go.Scatter(x=x, y=y, mode="lines", line=dict(color=color, width=width, dash=dash), hoverinfo="skip"))


def row_xy(rows):
    x, y = [], []
    for b0, b1, p in rows:
        for b in np.arange(b0, b1 + 0.01, 1.0):
            x.append(b)
            y.append(p)
    return x, y


def glyphs(rows, glyph, color, size, bold=False):
    x, y = row_xy(rows)
    text = ["<b>%s</b>" % glyph if bold else glyph] * len(x)
    fig.add_trace(go.Scatter(x=x, y=y, text=text, mode="text", textposition="middle center",
                             textfont=dict(color=color, size=size, family=FONT), hoverinfo="skip"))


def marks(rows, symbol, color, size, line=None, angle=0):
    x, y = row_xy(rows)
    fig.add_trace(go.Scatter(x=x, y=y, mode="markers", hoverinfo="skip",
                             marker=dict(symbol=symbol, color=color, size=size, angle=angle,
                                         line=dict(color=line or color, width=1))))


def labels(rows, color, size, family=FONT):
    fig.add_trace(go.Scatter(x=[r[0] for r in rows], y=[r[1] for r in rows], text=[r[2] for r in rows],
                             mode="text", textposition="middle center", hoverinfo="skip",
                             textfont=dict(color=color, size=size, family=family)))


levels(blue_dashes, BLUE, 1, "2px,5px")
levels(red_dashes, RED, 1, "3px,5px")

fig.add_trace(go.Candlestick(x=bars, open=opens, high=highs, low=lows, close=closes, whiskerwidth=0, hoverinfo="skip",
                             increasing=dict(fillcolor="#46B83E", line=dict(color="#000000", width=1)),
                             decreasing=dict(fillcolor="#D9625E", line=dict(color="#000000", width=1))))

levels(black_levels, "#000000", 3)
levels(magenta_levels, "#F000F0", 3)

marks(arrows_pink, "pentagon", "#F59A98", 13, "#D86A68", 180)
marks(arrows_cyan, "pentagon", "#00E6E6", 13, "#10B0B0")
marks(arrows_blue, "pentagon", "#0A3CE0", 13, "#0A2CA0")
marks(tri_red, "triangle-down-open", RED, 7)
marks(tri_up_blue, "triangle-up-open", BLUE, 6)
marks(tri_up_black, "triangle-up-open", "#000000", 6)
glyphs(m_blue, "M", BLUE, 9)
glyphs(w_pink, "w", "#F01C6C", 9)
glyphs(magenta_thin, "O", "#F43CF4", 11)
glyphs(magenta_bold, "O", "#F000D8", 13, True)
glyphs(green_thin, "O", "#22E060", 11)
glyphs(green_bold, "O", "#14E050", 13, True)
glyphs(o_big_blue, "O", BLUE, 10)
glyphs(o_small_blue, "o", BLUE, 9)
glyphs(x_blue, "x", BLUE, 9)
glyphs(i_blue, "i", BLUE, 11)
glyphs(o_big_red, "O", RED, 10)
glyphs(o_small_red, "o", RED, 9)
glyphs(x_red, "x", RED, 9)
glyphs(i_red, "i", RED, 11)
glyphs(star_red, "*", RED, 11)
for rows, col in [(a_blue, BLUE), (a_cyan, "#20D8E8"), (a_yellow, "#F0E020"), (a_orange, "#FFA818"), (a_red, RED)]:
    glyphs(rows, "A", col, 9)
for rows, col in [(b_red, RED), (b_yellow, "#F0E000"), (b_cyan, "#18B8F0"), (b_black, "#000000")]:
    glyphs(rows, "B", col, 10)

fig.add_trace(go.Scatter(x=upper_x, y=upper_y, mode="lines", line=dict(color="#7A14AE", width=2.2), hoverinfo="skip"))
fig.add_trace(go.Scatter(x=lower_x, y=lower_y, mode="lines", line=dict(color="#7A14AE", width=2.2), hoverinfo="skip"))
fig.add_trace(go.Scatter(x=middle_x, y=middle_y, mode="lines", line=dict(color="#7A14AE", width=4, dash="4px,6px"), hoverinfo="skip"))
fig.add_trace(go.Scatter(x=tma_x, y=tma_y, mode="lines", line=dict(color="#00E8F0", width=3.5), hoverinfo="skip"))

labels(blue_labels, BLUE, 11)
labels(red_labels, RED, 11)
labels(objmax_blue, BLUE, 10)
labels(objmax_red, RED, 10)
labels(dark_labels, "#333333", 15)
labels([(b, p, "<b>%s</b>" % t) for b, p, t in bold_labels], "#000000", 14)

ann = []
for b, p, t in framed_labels:
    ann.append(dict(x=b, y=p, text=t, showarrow=False, font=dict(color=RED, size=19, family=FONT),
                    bordercolor="#109010", borderwidth=1, borderpad=3, bgcolor="rgba(0,0,0,0)"))

# price tags right of the axis
tag_fonts = ["#8A10C0", "#000000", "#20B8C8", "#8A10C0", "#8A10C0"]
tag_fills = ["#F4F4F4", "#FFC800", "#F4F4F4", "#F4F4F4", "#F4F4F4"]
for p, t, c, f in zip(tag_prices, tag_texts, tag_fonts, tag_fills):
    ann.append(dict(x=fx(1956), xref="paper", xanchor="left", y=p, text=t, showarrow=False,
                    font=dict(color=c, size=12, family=FONT), bgcolor=f, bordercolor="#BDBDBD", borderwidth=1, borderpad=1))
    shapes.append(dict(type="line", xref="paper", x0=fx(1953), x1=fx(1958), y0=p, y1=p, line=dict(color=c, width=1)))

# window chrome: title bar and legend boxes
shapes.append(dict(type="rect", xref="paper", yref="paper", x0=fx(0), x1=fx(2000), y0=fy(21), y1=fy(0), fillcolor="#F2F2F2", line=dict(color="#D0D0D0", width=1), layer="above"))
ann.append(dict(xref="paper", yref="paper", x=fx(21), y=fy(12), xanchor="left", text="France 40 Cash (1€) 15 minutes 8 144,6 (+0,33 % 19 mars 2025, 11:55:35", showarrow=False, font=dict(size=11.4, color="#111111", family=FONT)))
ann.append(dict(xref="paper", yref="paper", x=fx(1997), y=fy(11), xanchor="right", text="IT-Finance.com", showarrow=False, font=dict(size=11.5, color="#222222", family=FONT)))
ann.append(dict(xref="paper", yref="paper", x=fx(2), y=fy(1056), xanchor="left", text="IT-Finance.com", showarrow=False, font=dict(size=11.5, color="#222222", family=FONT)))
shapes.append(dict(type="rect", xref="paper", yref="paper", x0=fx(3), x1=fx(9), y0=fy(18), y1=fy(10), fillcolor="#E05A50", line=dict(color="#333333", width=1), layer="above"))
shapes.append(dict(type="rect", xref="paper", yref="paper", x0=fx(11), x1=fx(17), y0=fy(16), y1=fy(6), fillcolor="#46C83E", line=dict(color="#333333", width=1), layer="above"))
legend_edges = [(1, 38), (39, 137), (138, 202), (203, 349)]
legend_texts = ["Prix", "Bollinger (155 2)", "TMA (20)", "w comptet ST 2025-02-22"]
legend_swatch = ["#E05A50", "#8000C0", "#00F0F0", "#000000"]
for (e0, e1), t, c in zip(legend_edges, legend_texts, legend_swatch):
    shapes.append(dict(type="rect", xref="paper", yref="paper", x0=fx(e0), x1=fx(e1), y0=fy(38), y1=fy(22), fillcolor="#F0F0F0", line=dict(color="#BDBDBD", width=1), layer="above"))
    shapes.append(dict(type="rect", xref="paper", yref="paper", x0=fx(e0 + 4), x1=fx(e0 + 14), y0=fy(34), y1=fy(25), fillcolor=c, line_width=0, layer="above"))
    ann.append(dict(xref="paper", yref="paper", x=fx(e0 + 15), y=fy(29.5), xanchor="left", text=t, showarrow=False, font=dict(size=11.5, color="#222222", family=FONT)))
shapes.append(dict(type="rect", xref="paper", yref="paper", x0=fx(5), x1=fx(10), y0=fy(34), y1=fy(25), fillcolor="#50C848", line_width=0, layer="above"))

fig.update_layout(
    width=W, height=H, showlegend=False, plot_bgcolor="#FFFFFF", paper_bgcolor="#FFFFFF",
    margin=dict(l=ML, r=MR, t=MT, b=MB, autoexpand=False), shapes=shapes, annotations=ann,
    font=dict(family=FONT),
    xaxis=dict(range=[-5.45, 361.4], rangeslider=dict(visible=False), tickmode="array", tickvals=x_ticks,
               ticktext=["<b style='font-size:13px'>%s</b>" % t if len(t) == 2 else t for t in x_labels],
               showgrid=True, gridcolor="#E6E6E6", gridwidth=1, zeroline=False, showline=True, linecolor="#A8A8A8", linewidth=1,
               ticks="", tickfont=dict(size=11, color="#222222", family=FONT), automargin=False),
    yaxis=dict(range=[7790, 8184.7], side="right", tickmode="array", tickvals=y_ticks, ticktext=y_labels,
               showgrid=False, zeroline=False, showline=True, linecolor="#A8A8A8", linewidth=1, ticks="outside", ticklen=4,
               tickcolor="#A8A8A8", tickfont=dict(size=11, color="#222222", family=FONT), automargin=False),
)
fig.write_html("out.html", config={"displayModeBar": False},
               post_script="document.body.style.margin='0';document.documentElement.style.overflow='hidden';")
